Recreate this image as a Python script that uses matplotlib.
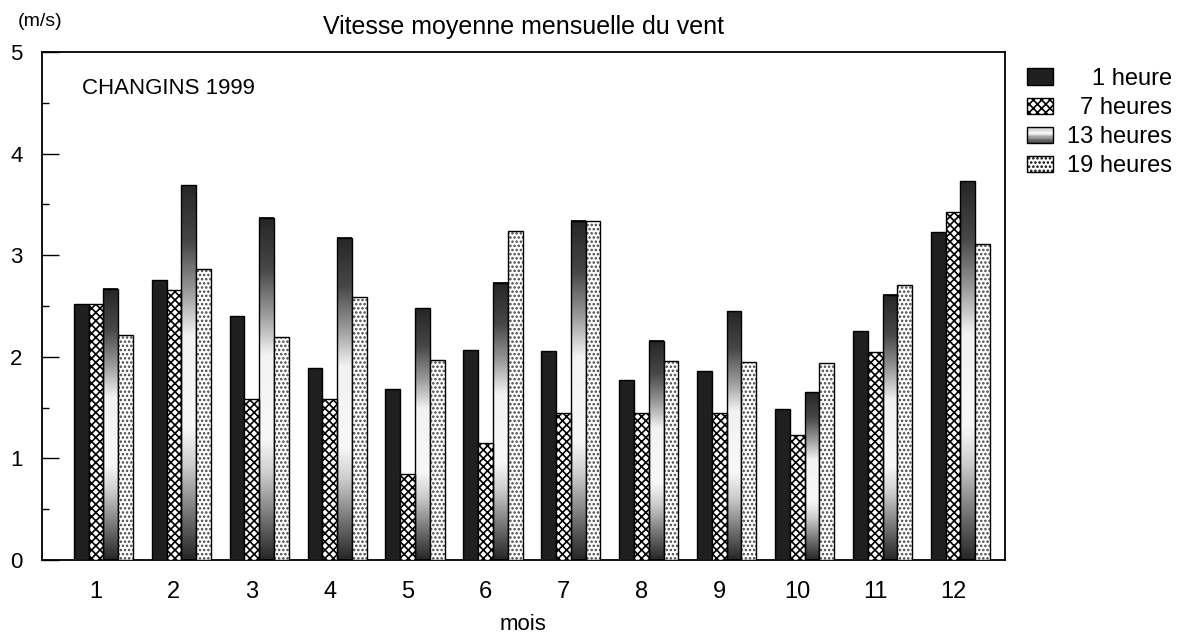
import numpy as np
import matplotlib.pyplot as plt
from matplotlib.patches import Rectangle
from matplotlib.legend_handler import HandlerBase

# Données : vitesse moyenne mensuelle du vent (m/s), Changins 1999
mois = [1, 2, 3, 4, 5, 6, 7, 8, 9, 10, 11, 12]
h01 = [2.52, 2.76, 2.40, 1.89, 1.68, 2.07, 2.06, 1.77, 1.86, 1.49, 2.25, 3.23]
h07 = [2.52, 2.66, 1.58, 1.58, 0.85, 1.15, 1.45, 1.45, 1.45, 1.23, 2.05, 3.43]
h13 = [2.67, 3.69, 3.37, 3.17, 2.48, 2.73, 3.34, 2.16, 2.45, 1.65, 2.61, 3.73]
h19 = [2.21, 2.86, 2.19, 2.59, 1.97, 3.24, 3.34, 1.96, 1.95, 1.94, 2.71, 3.11]
labels = ['1 heure', '7 heures', '13 heures', '19 heures']

plt.rcParams['font.family'] = ['Liberation Sans', 'DejaVu Sans']
plt.rcParams['hatch.linewidth'] = 1.2

# dégradé vertical des barres de 13 heures (bas -> haut)
f_stops = [0.0, 0.1, 0.25, 0.35, 0.6, 0.72, 0.85, 1.0]
g_stops = [0.15, 0.4, 0.8, 0.97, 0.95, 0.6, 0.28, 0.15]
f = np.linspace(0, 1, 200)
degrade = np.interp(f, f_stops, g_stops)


class HandlerDegrade(HandlerBase):
    def create_artists(self, legend, orig_handle, xdescent, ydescent,
                       width, height, fontsize, trans):
        arts = []
        n = 12
        for i in range(n):
            g = np.interp((i + 0.5) / n, [0.0, 0.35, 0.6, 1.0], [0.25, 0.6, 0.97, 0.75])
            arts.append(Rectangle((-xdescent, -ydescent + i * height / n), width,
                                  height / n, facecolor=str(g), edgecolor='none',
                                  transform=trans))
        arts.append(Rectangle((-xdescent, -ydescent), width, height, facecolor='none',
                              edgecolor='black', lw=1, transform=trans))
        return arts


fig = plt.figure(figsize=(12.02, 6.39), dpi=100)
ax = fig.add_axes([42 / 1202, 1 - 560 / 639, 963 / 1202, 508 / 639])

x = np.array(mois, dtype=float)
w = 0.19

# 1 heure : sombre
ax.bar(x - 1.5 * w, h01, w, align='edge', color='#1f1f1f', edgecolor='black', lw=1, zorder=3)

# 7 heures : quadrillage
ax.bar(x - 0.5 * w, h07, w, align='edge', color='white', edgecolor='black', hatch='xxxx',
       lw=1, zorder=3)

# 13 heures : dégradé
for xi, hi in zip(x + 0.5 * w, h13):
    ax.imshow(degrade[:, None], cmap='gray', vmin=0, vmax=1, origin='lower',
              extent=[xi, xi + w, 0, hi], aspect='auto', interpolation='bilinear', zorder=2)
ax.bar(x + 0.5 * w, h13, w, align='edge', color='none', edgecolor='black', lw=1, zorder=3)

# 19 heures : pointillé
ax.bar(x + 1.5 * w, h19, w, align='edge', color='white', edgecolor='#444444', hatch='....',
       lw=0, zorder=3)
ax.bar(x + 1.5 * w, h19, w, align='edge', color='none', edgecolor='black', lw=1, zorder=4)

ax.set_xlim(0.307, 12.667)
ax.set_ylim(0, 5)
ax.set_xticks(mois)
ax.set_xticklabels([str(m) for m in mois])
ax.set_yticks([0, 1, 2, 3, 4, 5])
ax.set_yticks(np.arange(0.5, 5, 1.0), minor=True)
ax.tick_params(axis='x', length=0, pad=15, labelsize=17)
ax.tick_params(axis='y', which='major', direction='in', length=12, width=1, pad=14, labelsize=16)
ax.tick_params(axis='y', which='minor', direction='in', length=5, width=1)
for s in ax.spines.values():
    s.set_linewidth(1.3)

ax.set_title('Vitesse moyenne mensuelle du vent', fontsize=18, pad=13)
ax.set_xlabel('mois', fontsize=16, labelpad=8)
fig.text(40 / 1202, 1 - 21 / 639, '(m/s)', fontsize=14, ha='center', va='center')
ax.text(0.0415, 0.928, 'CHANGINS 1999', transform=ax.transAxes, fontsize=16,
        ha='left', va='center')

# légende
poignees = [
    Rectangle((0, 0), 1, 1, facecolor='#1f1f1f', edgecolor='black'),
    Rectangle((0, 0), 1, 1, facecolor='white', edgecolor='black', hatch='xxxx'),
    Rectangle((0, 0), 1, 1),
    Rectangle((0, 0), 1, 1, facecolor='white', edgecolor='black', hatch='....'),
]
leg = fig.legend(poignees, labels, loc='upper left',
                 bbox_to_anchor=(1027 / 1202, 1 - 68 / 639), frameon=False,
                 fontsize=17, borderpad=0, borderaxespad=0, handlelength=1.1,
                 handleheight=0.7, handletextpad=0.6, labelspacing=0.3,
                 handler_map={poignees[2]: HandlerDegrade()})

# alignement des libellés à droite
renderer = fig.canvas.get_renderer()
largeurs = [t.get_window_extent(renderer).width for t in leg.get_texts()]
lmax = max(largeurs)
for t, lw_ in zip(leg.get_texts(), largeurs):
    t.set_position((lmax - lw_, 0))

fig.savefig('out.png', dpi=100)
